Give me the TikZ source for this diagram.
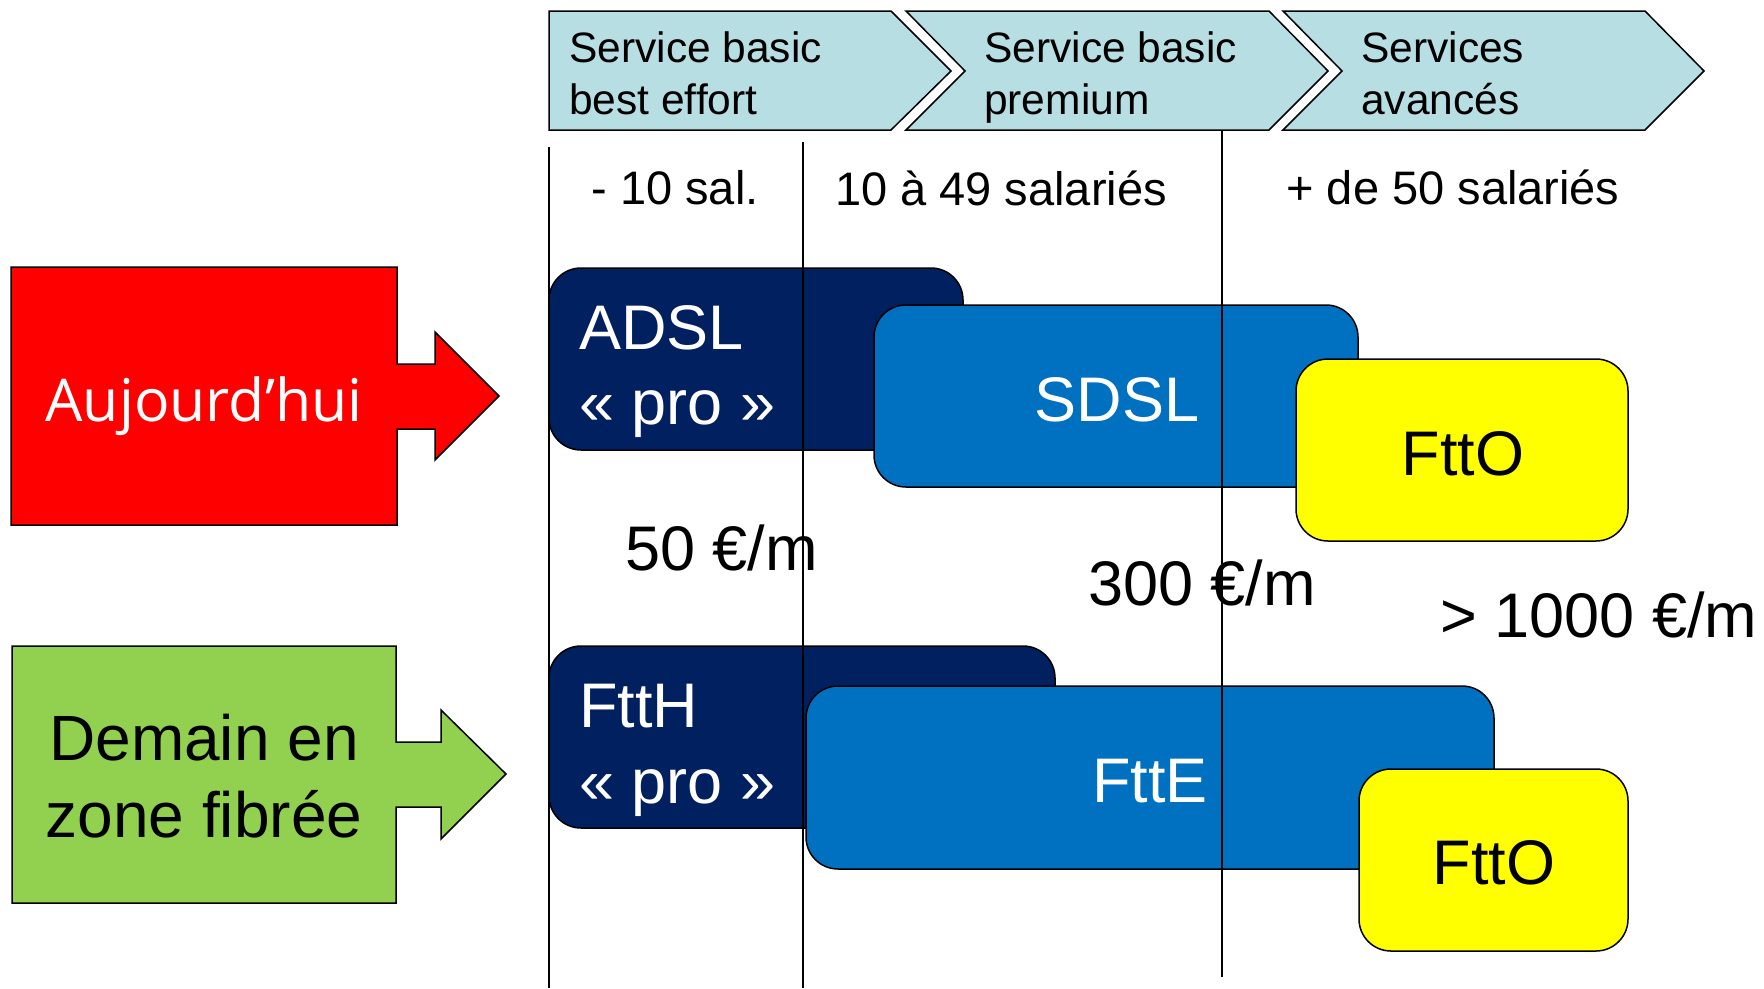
\documentclass[tikz,border=0pt]{standalone}
\usepackage{fontspec}
\setmainfont{Liberation Sans}
\newfontfamily\segoefont{Open Sans}
\definecolor{banner}{RGB}{183,222,226}
\definecolor{navy}{RGB}{0,32,96}
\definecolor{midblue}{RGB}{0,112,192}
\definecolor{ylw}{RGB}{255,255,0}
\definecolor{rd}{RGB}{255,0,0}
\definecolor{grn}{RGB}{146,208,80}
\begin{document}
\begin{tikzpicture}[x=1pt,y=-1pt,
  outl/.style={draw=black, line width=1.5pt, line join=miter},
  chev/.style={outl, fill=banner},
  rbox/.style={rectangle, draw=black, line width=1.5pt, rounded corners=32pt, inner sep=0pt},
  bannertxt/.style={inner sep=0pt, anchor=base west, font=\fontsize{42.5}{50}\selectfont},
  coltxt/.style={inner sep=0pt, anchor=base, font=\fontsize{47}{56}\selectfont},
  bigw/.style={inner sep=0pt, anchor=base west, text=white, font=\fontsize{63}{75}\selectfont},
  bigc/.style={inner sep=0pt, anchor=base, font=\fontsize{63}{75}\selectfont},
  price/.style={inner sep=0pt, anchor=base west, font=\fontsize{63}{75}\selectfont},
  vline/.style={draw=black, line width=1.7pt}]
\useasboundingbox[fill=white] (0,0) rectangle (1764,988);

% banner chevrons
\draw[chev] (549,11) -- (891,11) -- (951,71) -- (891,130) -- (549,130) -- cycle;
\draw[chev] (906,11) -- (1269,11) -- (1328,71) -- (1269,130) -- (906,130) -- (965,71) -- cycle;
\draw[chev] (1283,11) -- (1645,11) -- (1704,71) -- (1645,130) -- (1283,130) -- (1342,71) -- cycle;
\node[bannertxt] (b1a) at (569,62) {Service basic};
\node[bannertxt] (b1b) at (569,114) {best effort};
\node[bannertxt] (b2a) at (984,62) {Service basic};
\node[bannertxt] (b2b) at (984,114) {premium};
\node[bannertxt] (b3a) at (1361,62) {Services};
\node[bannertxt] (b3b) at (1361,114) {avancés};

% column labels
\node[coltxt] (c1) at (675,204) {- 10 sal.};
\node[coltxt] (c2) at (1001,205) {10 à 49 salariés};
\node[coltxt] (c3) at (1453,204) {+ de 50 salariés};

% left arrows
\draw[outl, fill=rd] (11,267) -- (397,267) -- (397,364) -- (435,364) -- (435,332) -- (499,396)
  -- (435,460) -- (435,429) -- (397,429) -- (397,525) -- (11,525) -- cycle;
\node[inner sep=0pt, anchor=base, text=white, font=\segoefont\fontsize{59}{70}\selectfont] (auj) at (204,421) {Aujourd’hui};

\draw[outl, fill=grn] (12,646) -- (396,646) -- (396,742) -- (441,742) -- (441,710) -- (506,774)
  -- (441,839) -- (441,807) -- (396,807) -- (396,903) -- (12,903) -- cycle;
\node[inner sep=0pt, anchor=base, font=\fontsize{64}{76}\selectfont] (dem1) at (204,760) {Demain en};
\node[inner sep=0pt, anchor=base, font=\fontsize{64}{76}\selectfont] (dem2) at (204,837) {zone fibrée};

% today row
\node[rbox, fill=navy, minimum width=414pt, minimum height=182pt] (adsl) at (756,359) {};
\node[rbox, fill=midblue, minimum width=484pt, minimum height=182pt] (sdsl) at (1116,396) {};
\node[rbox, fill=ylw, minimum width=332pt, minimum height=182pt] (ftto1) at (1462,450) {};
\node[bigw] (adslt) at (579,349) {ADSL};
\node[bigw] (adslp) at (579,424) {« pro »};
\node[bigc, text=white] (sdslt) at (1117,421) {SDSL};
\node[bigc] (ftto1t) at (1463,475) {FttO};

% prices
\node[price] (p1) at (625,570) {50 €/m};
\node[price] (p2) at (1088,605) {300 €/m};
\node[price] (p3) at (1440,637) {> 1000 €/m};

% tomorrow row
\node[rbox, fill=navy, minimum width=506pt, minimum height=182pt] (ftth) at (802,737) {};
\node[rbox, fill=midblue, minimum width=688pt, minimum height=183pt] (ftte) at (1150,777.5) {};
\node[rbox, fill=ylw, minimum width=269pt, minimum height=182pt] (ftto2) at (1493.5,860) {};
\node[bigw] (ftht) at (579,727) {FttH};
\node[bigw] (fthp) at (579,803) {« pro »};
\node[bigc, text=white] (fttet) at (1150,802) {FttE};
\node[bigc] (ftto2t) at (1494,884) {FttO};

% column separators
\draw[vline] (549,147) -- (549,988);
\draw[vline] (803,142) -- (803,988);
\draw[vline] (1222,130) -- (1222,977);
\end{tikzpicture}
\end{document}
